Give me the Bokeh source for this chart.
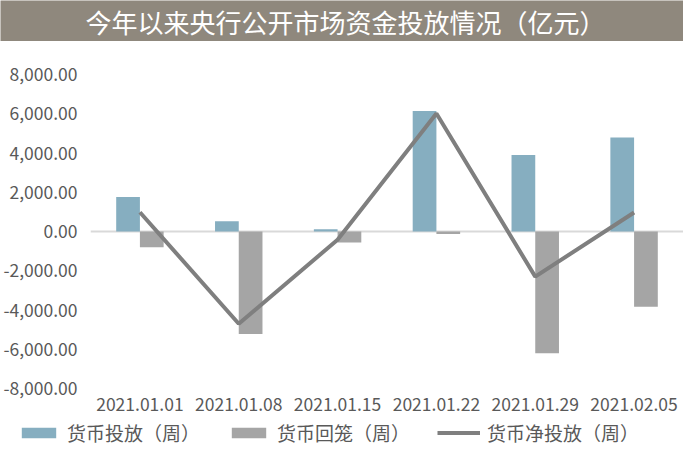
from bokeh.plotting import figure
from bokeh.models import (ColumnDataSource, FactorRange, Range1d, FixedTicker,
                          NumeralTickFormatter, Span, Legend, LegendItem, Label)
from bokeh.transform import dodge
from bokeh.layouts import column
from bokeh.embed import file_html
from bokeh.resources import INLINE

# ---- data ----
title_text = "今年以来央行公开市场资金投放情况（亿元）"
categories = ["2021.01.01", "2021.01.08", "2021.01.15", "2021.01.22", "2021.01.29", "2021.02.05"]
injection = [1760, 520, 120, 6140, 3900, 4790]          # 货币投放（周）
withdrawal = [-800, -5220, -560, -130, -6200, -3830]    # 货币回笼（周）
net_injection = [980, -4700, -420, 6010, -2300, 970]    # 货币净投放（周）
y_ticks = [-8000, -6000, -4000, -2000, 0, 2000, 4000, 6000, 8000]
series_names = ["货币投放（周）", "货币回笼（周）", "货币净投放（周）"]

FONT = "Noto Sans CJK SC"
BLUE = "#86aec0"
GRAY = "#a5a5a5"
LINE = "#7f7f7f"
TXT = "#595959"
BAR_BG = "#8f887d"

W = 683
TITLE_H = 41
LEG_H = 31
MAIN_H = 449 - TITLE_H - LEG_H


def bare(fig):
    fig.axis.visible = False
    fig.grid.visible = False
    fig.outline_line_color = None


# ---- title bar ----
t = figure(width=W, height=TITLE_H, x_range=Range1d(0, 1), y_range=Range1d(0, 1),
           min_border=0, toolbar_location=None, output_backend="svg", frame_align=False)
bare(t)
t.background_fill_color = BAR_BG
t.border_fill_color = BAR_BG
t.add_layout(Label(x=0.505, y=0.5, text=title_text, text_align="center",
                   text_baseline="middle", text_color="white",
                   text_font=FONT, text_font_size="26px"))

# ---- main chart ----
source = ColumnDataSource(dict(cat=categories, inj=injection, wd=withdrawal, net=net_injection))

p = figure(width=W, height=MAIN_H, x_range=FactorRange(*categories, range_padding=0),
           y_range=Range1d(-8000, 8000), toolbar_location=None, output_backend="svg",
           frame_align=False,
           min_border_left=90, min_border_right=0, min_border_top=33, min_border_bottom=30)
p.outline_line_color = None
p.grid.visible = False

p.add_layout(Span(location=0, dimension="width", line_color="#d9d9d9",
                  line_width=2, level="underlay"))

bar_style = dict(width=0.24, source=source, line_color=None)
p.vbar(x=dodge("cat", -0.12, range=p.x_range), top="inj", fill_color=BLUE, **bar_style)
p.vbar(x=dodge("cat", 0.12, range=p.x_range), top="wd", fill_color=GRAY, **bar_style)
p.line(x="cat", y="net", source=source, line_color=LINE, line_width=4)

p.yaxis.ticker = FixedTicker(ticks=y_ticks)
p.yaxis.formatter = NumeralTickFormatter(format="0,0.00")
for ax in (p.xaxis[0], p.yaxis[0]):
    ax.axis_line_color = None
    ax.major_tick_line_color = None
    ax.minor_tick_line_color = None
    ax.major_tick_out = 0
    ax.major_tick_in = 0
    ax.major_label_text_font = FONT
    ax.major_label_text_font_size = "17.5px"
    ax.major_label_text_color = TXT
p.yaxis.major_label_standoff = 13
p.xaxis.major_label_standoff = 9

# ---- legend strip (same styles as the chart's renderers) ----
lg = figure(width=W, height=LEG_H, x_range=Range1d(0, 1), y_range=Range1d(0, 1),
            min_border=0, toolbar_location=None, output_backend="svg", frame_align=False)
bare(lg)
nan = float("nan")
proxy = ColumnDataSource(dict(x=[nan], y=[nan], top=[nan]))
g1 = lg.vbar(x="x", top="top", width=0.1, source=proxy, fill_color=BLUE, line_color=None)
g2 = lg.vbar(x="x", top="top", width=0.1, source=proxy, fill_color=GRAY, line_color=None)
g3 = lg.line(x="x", y="y", source=proxy, line_color=LINE, line_width=4)
legend = Legend(items=[LegendItem(label=series_names[0], renderers=[g1]),
                       LegendItem(label=series_names[1], renderers=[g2]),
                       LegendItem(label=series_names[2], renderers=[g3])],
                orientation="horizontal", location=(17, 3),
                padding=0, margin=0, spacing=27, label_standoff=7,
                glyph_width=43, glyph_height=13, label_height=20,
                label_text_font=FONT, label_text_font_size="19px",
                label_text_color=TXT, border_line_color=None,
                background_fill_alpha=0)
lg.add_layout(legend, "center")

layout = column(t, p, lg, spacing=0)
open("out.html", "w").write(file_html(layout, INLINE))
